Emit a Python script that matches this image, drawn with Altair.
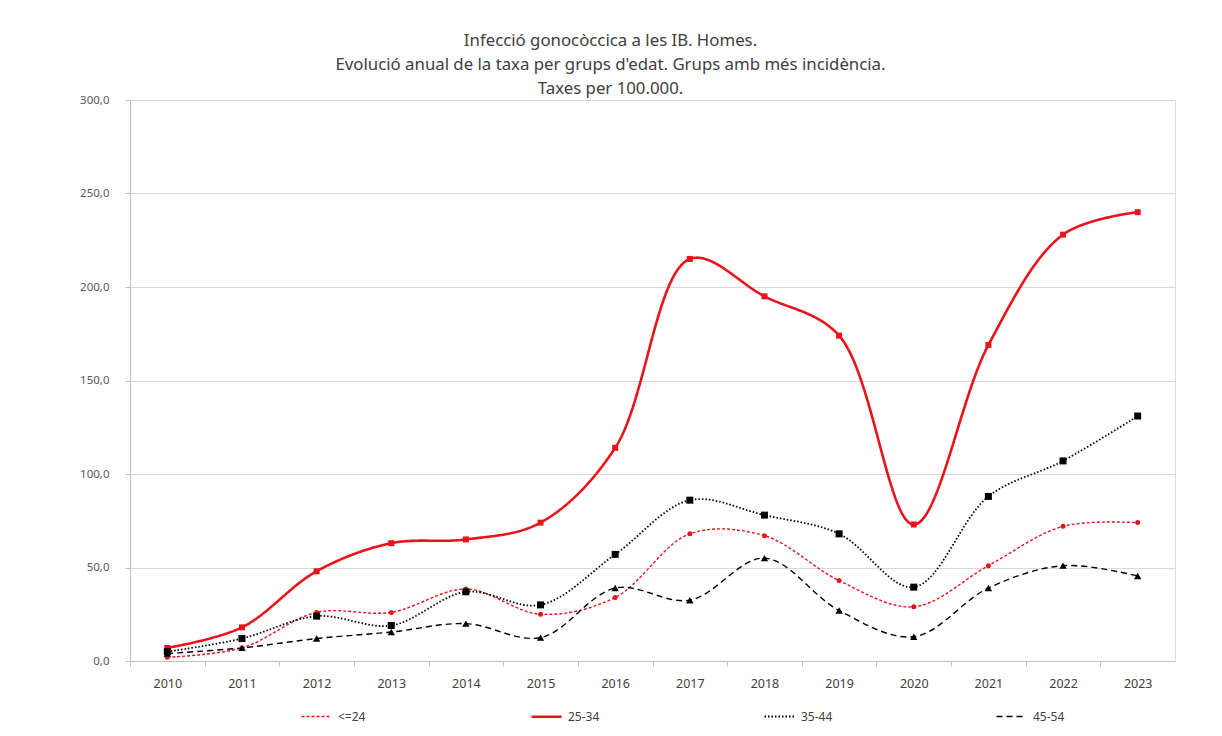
import altair as alt
import pandas as pd

years = [str(y) for y in range(2010, 2024)]
groups = ["<=24", "25-34", "35-44", "45-54"]
v_le24 = [2, 7, 26, 26, 38.5, 25, 34, 68, 67, 43, 29, 51, 72, 74]
v_2534 = [7, 18, 48, 63, 65, 74, 114, 215, 195, 174, 73, 169, 228, 240]
v_3544 = [5, 12, 24, 19, 37, 30, 57, 86, 78, 68, 39.5, 88, 107, 131]
v_4554 = [4, 7, 12, 15.5, 20, 12.5, 39, 32.5, 55, 27, 13, 39, 51, 45.5]

series = {"<=24": v_le24, "25-34": v_2534, "35-44": v_3544, "45-54": v_4554}
rows = []
for g in groups:
    for yr, v in zip(years, series[g]):
        rows.append({"year": yr, "group": g, "marker": g, "value": v})
df = pd.DataFrame(rows)

RED = "#e8131b"
colors = [RED, RED, "#000000", "#000000"]
dashes = [[3, 2], [1, 0], [1.5, 2], [6, 4]]
widths = [1.4, 2.6, 1.8, 1.4]
shapes = ["circle", "square", "square", "triangle-up"]
sizes = [25, 36, 49, 55]

FONT = "Noto Sans"
STEP = 1045 / 14

leg = alt.Legend(orient="none", legendX=170, legendY=600, direction="horizontal",
                 columns=4, columnPadding=160, symbolType="stroke", symbolSize=900,
                 labelFont=FONT, labelFontSize=12, labelColor="#404040", labelOffset=5,
                 title=None)

x_enc = alt.X("year:O", sort=years, title=None,
              axis=alt.Axis(labelAngle=0, labelFontSize=12.5,
                            labelColor="#404040", labelFont=FONT, domainColor="#bfbfbf",
                            tickColor="#bfbfbf", tickSize=5, labelPadding=11,
                            tickOffset=-STEP / 2, labelOffset=STEP / 2, grid=False))
y_enc = alt.Y("value:Q", title=None,
              scale=alt.Scale(domain=[0, 300], nice=False),
              axis=alt.Axis(values=[0, 50, 100, 150, 200, 250, 300],
                            labelExpr="replace(format(datum.value, '.1f'), '.', ',')",
                            labelFontSize=11.5, labelColor="#595959", labelFont=FONT,
                            domainColor="#bfbfbf", tickColor="#bfbfbf", tickSize=5,
                            gridColor="#d9d9d9", labelPadding=16))

lines = alt.Chart(df).mark_line(interpolate="catmull-rom").encode(
    x=x_enc,
    y=y_enc,
    color=alt.Color("group:N", sort=groups, scale=alt.Scale(domain=groups, range=colors), legend=leg),
    strokeDash=alt.StrokeDash("group:N", sort=groups, scale=alt.Scale(domain=groups, range=dashes), legend=leg),
    strokeWidth=alt.StrokeWidth("group:N", sort=groups,
                                scale=alt.Scale(type="ordinal", domain=groups, range=widths), legend=leg),
    detail="group:N",
)

points = alt.Chart(df).mark_point(filled=True, opacity=1).encode(
    x=alt.X("year:O", sort=years),
    y=alt.Y("value:Q"),
    fill=alt.Fill("marker:N", scale=alt.Scale(domain=groups, range=colors), legend=None),
    shape=alt.Shape("marker:N", scale=alt.Scale(domain=groups, range=shapes), legend=None),
    size=alt.Size("marker:N", scale=alt.Scale(type="ordinal", domain=groups, range=sizes), legend=None),
)

chart = alt.layer(lines, points).properties(
    width=1045,
    height=561,
    padding={"left": 122, "top": 92, "right": 39, "bottom": 72},
    autosize=alt.AutoSizeParams(type="none"),
    title=alt.Title(
        text=["Infecció gonocòccica a les IB. Homes.",
              "Evolució anual de la taxa per grups d'edat. Grups amb més incidència.",
              "Taxes per 100.000."],
        font=FONT, fontSize=16.8, fontWeight="normal", color="#404040",
        anchor="middle", dx=-42, offset=4, dy=8, lineHeight=24,
    ),
).resolve_scale(fill="independent", shape="independent", size="independent"
).configure_view(stroke=None).configure(background="white")

chart.save("out.html", embed_options={"renderer": "svg", "actions": False})
